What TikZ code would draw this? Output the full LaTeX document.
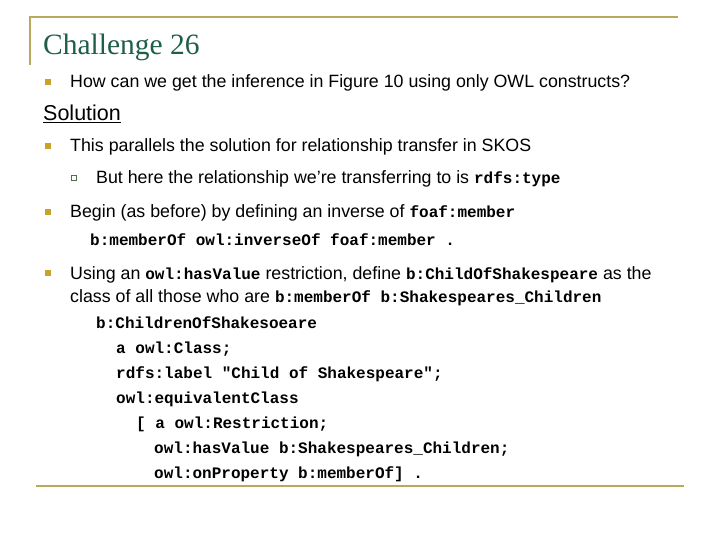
\documentclass[tikz,border=0pt]{standalone}
\usepackage{fontspec}
\setmainfont{Liberation Sans}
\newfontfamily\titlefont{Liberation Serif}
\setmonofont{Liberation Mono}
\definecolor{rule}{HTML}{B8AA5A}
\definecolor{bul}{HTML}{C9A227}
\definecolor{ttl}{HTML}{1F5F4A}
\definecolor{sub}{HTML}{4F6F4F}
\tikzset{
  txt/.style={anchor=base west, inner sep=0pt, font=\fontsize{17.8}{21}\selectfont},
  code/.style={anchor=base west, inner sep=0pt, font=\fontsize{16}{19}\ttfamily\bfseries},
  bsq/.style={fill=bul, minimum size=6pt, inner sep=0pt},
  ssq/.style={draw=sub, line width=0.8pt, minimum size=5.5pt, inner sep=0pt},
  rl/.style={rule, line width=2pt}
}
\newcommand{\cw}[1]{{\fontsize{16}{19}\ttfamily\bfseries #1}}
\begin{document}
\begin{tikzpicture}[x=1pt,y=-1pt]
\useasboundingbox (0,0) rectangle (720,540);
\coordinate (tl) at (30,17);
\coordinate (tr) at (678,17);
\coordinate (lb) at (30,65);
\coordinate (bl) at (36,486);
\coordinate (br) at (684,486);
\draw[rl] (lb) -- (tl) -- (tr);
\draw[rl] (bl) -- (br);
\node[anchor=base west, inner sep=0pt, text=ttl, font=\titlefont\fontsize{29.5}{32}\selectfont] (t) at (43,55) {Challenge 26};
\node[bsq] (b1) at (48,82) {};
\node[txt] (l1) at (70,88) {How can we get the inference in Figure 10 using only OWL constructs?};
\node[anchor=base west, inner sep=0pt, font=\fontsize{21.5}{24}\selectfont] (sol) at (43,121) {\underline{Solution}};
\node[bsq] (b2) at (48,146) {};
\node[txt] (l2) at (70,152) {This parallels the solution for relationship transfer in SKOS};
\node[ssq] (s1) at (74,178) {};
\node[txt] (l3) at (96,184) {But here the relationship we’re transferring to is \cw{rdfs:type}};
\node[bsq] (b3) at (48,212) {};
\node[txt] (l4) at (70,218) {Begin (as before) by defining an inverse of \cw{foaf:member}};
\node[code] (c0) at (90,245) {b:memberOf owl:inverseOf foaf:member .};
\node[bsq] (b4) at (48,273) {};
\node[txt] (l5) at (70,279) {Using an \cw{owl:hasValue} restriction, define \cw{b:ChildOfShakespeare} as the};
\node[txt] (l6) at (70,302) {class of all those who are \cw{b:memberOf b:Shakespeares\_Children}};
\node[code] (c1) at (96,328) {b:ChildrenOfShakesoeare};
\node[code] (c2) at (116,353) {a owl:Class;};
\node[code] (c3) at (116,378) {rdfs:label "Child of Shakespeare";};
\node[code] (c4) at (116,403) {owl:equivalentClass};
\node[code] (c5) at (136,428) {[ a owl:Restriction;};
\node[code] (c6) at (154,453) {owl:hasValue b:Shakespeares\_Children;};
\node[code] (c7) at (154,478) {owl:onProperty b:memberOf] .};
\end{tikzpicture}
\end{document}
